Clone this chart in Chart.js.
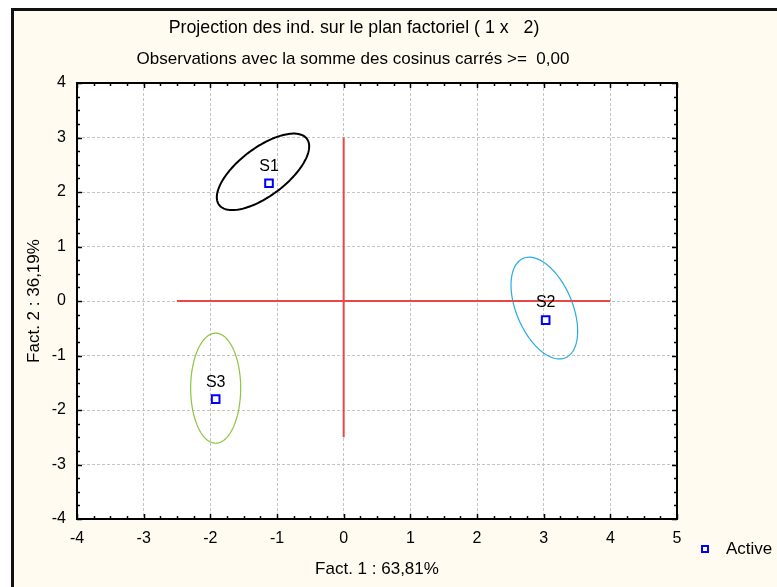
<!DOCTYPE html>
<html>
<head>
<meta charset="utf-8">
<title>Projection des ind. sur le plan factoriel</title>
<script src="https://cdn.jsdelivr.net/npm/chart.js@4/dist/chart.umd.min.js"></script>
<style>
  html, body { margin: 0; padding: 0; background: #ffffff; }
  #wrap { position: relative; width: 777px; height: 587px; }
</style>
</head>
<body>
<div id="wrap"><canvas id="plan" width="777" height="587"></canvas></div>
<script>
// Individuals and their coordinates on factors 1 and 2
const individuals = ['S1', 'S2', 'S3'];
const fact1 = [-1.12, 3.03, -1.92];
const fact2 = [2.16, -0.35, -1.80];

// Axis ticks
const xTicks = [-4, -3, -2, -1, 0, 1, 2, 3, 4, 5];
const yTicks = [-4, -3, -2, -1, 0, 1, 2, 3, 4];

// Origin cross lines (extent along each factor)
const originHorizontal = [-2.5, 4];
const originVertical = [-2.5, 3];

// Ellipses around each individual: centre and two conjugate half-axes (factor units)
const ellipseCx = [-1.21, 3.01, -1.92];
const ellipseCy = [2.37, -0.13, -1.60];
const ellipseU = [[0.658, 0.607], [0.316, -0.912], [0.0, 1.01]];
const ellipseV = [[-0.216, 0.352], [0.387, 0.20], [0.375, 0.0]];
const ellipseColors = ['#000000', '#29ABE2', '#8CC63F'];

const FONT = "'Liberation Sans', Arial, sans-serif";
const CREAM = '#FFFBF0';

const framePlugin = {
  id: 'frame',
  beforeDraw(chart) {
    const { ctx, width, height, chartArea: a } = chart;
    ctx.save();
    ctx.fillStyle = '#ffffff';
    ctx.fillRect(0, 0, width, height);
    ctx.fillStyle = CREAM;
    ctx.fillRect(11, 8, width - 11, height - 8);
    ctx.fillStyle = '#111111';
    ctx.fillRect(11, 8, width - 11, 3);
    ctx.fillRect(11, 8, 3, height - 8);
    ctx.fillStyle = '#ffffff';
    ctx.fillRect(a.left, a.top, a.right - a.left, a.bottom - a.top);
    ctx.restore();
  },
  beforeDatasetsDraw(chart) {
    const { ctx, chartArea: a, scales: { x, y } } = chart;
    ctx.save();
    ctx.beginPath();
    ctx.rect(a.left, a.top, a.right - a.left, a.bottom - a.top);
    ctx.clip();
    for (let i = 0; i < ellipseCx.length; i++) {
      ctx.beginPath();
      const n = 180;
      for (let k = 0; k <= n; k++) {
        const t = (k / n) * Math.PI * 2;
        const vx = ellipseCx[i] + ellipseU[i][0] * Math.cos(t) + ellipseV[i][0] * Math.sin(t);
        const vy = ellipseCy[i] + ellipseU[i][1] * Math.cos(t) + ellipseV[i][1] * Math.sin(t);
        const px = x.getPixelForValue(vx);
        const py = y.getPixelForValue(vy);
        if (k === 0) ctx.moveTo(px, py); else ctx.lineTo(px, py);
      }
      ctx.closePath();
      ctx.strokeStyle = ellipseColors[i];
      ctx.lineWidth = i === 0 ? 2 : 1.2;
      ctx.stroke();
    }
    ctx.restore();
  },
  afterDatasetsDraw(chart) {
    const { ctx, chartArea: a, scales: { x, y } } = chart;
    ctx.save();
    // point labels
    ctx.fillStyle = '#000000';
    ctx.font = '16px ' + FONT;
    ctx.textAlign = 'center';
    ctx.textBaseline = 'middle';
    individuals.forEach((name, i) => {
      ctx.fillText(name, x.getPixelForValue(fact1[i]), y.getPixelForValue(fact2[i]) - 17);
    });

    // plot frame
    ctx.strokeStyle = '#000000';
    ctx.lineWidth = 2;
    ctx.strokeRect(a.left, a.top, a.right - a.left, a.bottom - a.top);

    // inward ticks on all four sides (major every unit, minor every quarter)
    ctx.lineWidth = 1.5;
    ctx.beginPath();
    for (let v = x.min; v <= x.max + 1e-9; v += 0.25) {
      const px = Math.round(x.getPixelForValue(v)) + 0.5;
      const len = Math.abs(v - Math.round(v)) < 1e-6 ? 5 : 3;
      ctx.moveTo(px, a.bottom); ctx.lineTo(px, a.bottom - len);
      ctx.moveTo(px, a.top); ctx.lineTo(px, a.top + len);
    }
    for (let v = y.min; v <= y.max + 1e-9; v += 0.25) {
      const py = Math.round(y.getPixelForValue(v)) + 0.5;
      const len = Math.abs(v - Math.round(v)) < 1e-6 ? 5 : 3;
      ctx.moveTo(a.left, py); ctx.lineTo(a.left + len, py);
      ctx.moveTo(a.right, py); ctx.lineTo(a.right - len, py);
    }
    ctx.stroke();
    ctx.restore();
  },
  afterDraw(chart) {
    const { ctx } = chart;
    ctx.save();
    ctx.fillStyle = '#000000';
    ctx.textAlign = 'center';
    ctx.textBaseline = 'middle';
    ctx.font = '17.8px ' + FONT;
    ctx.fillText('Projection des ind. sur le plan factoriel ( 1 x   2)', 354, 28);
    ctx.font = '17px ' + FONT;
    ctx.fillText('Observations avec la somme des cosinus carrés >=  0,00', 353, 59);

    // legend
    ctx.fillStyle = '#ffffff';
    ctx.fillRect(702, 546, 6, 6);
    ctx.strokeStyle = '#0000FF';
    ctx.lineWidth = 2;
    ctx.strokeRect(702, 546, 6, 6);
    ctx.fillStyle = '#000000';
    ctx.textAlign = 'left';
    ctx.fillText('Active', 726, 549);
    ctx.restore();
  }
};

const points = individuals.map((n, i) => ({ x: fact1[i], y: fact2[i] }));

new Chart(document.getElementById('plan'), {
  type: 'scatter',
  data: {
    datasets: [
      {
        label: 'Active',
        data: points,
        pointStyle: 'rect',
        pointRadius: 5.4,
        pointBorderWidth: 2,
        pointBorderColor: '#0000FF',
        pointBackgroundColor: '#ffffff',
        showLine: false
      },
      {
        type: 'line',
        label: 'axe1',
        data: originHorizontal.map(v => ({ x: v, y: 0 })),
        borderColor: '#E84848',
        borderWidth: 2,
        pointRadius: 0,
        fill: false
      },
      {
        type: 'line',
        label: 'axe2',
        data: originVertical.map(v => ({ x: 0, y: v })),
        borderColor: '#E84848',
        borderWidth: 2,
        pointRadius: 0,
        fill: false
      }
    ]
  },
  options: {
    responsive: false,
    animation: false,
    devicePixelRatio: 1,
    events: [],
    layout: { padding: { left: 0, top: 83, right: 100, bottom: 0 } },
    plugins: { legend: { display: false }, tooltip: { enabled: false } },
    scales: {
      x: {
        type: 'linear',
        min: xTicks[0],
        max: xTicks[xTicks.length - 1],
        afterBuildTicks: s => { s.ticks = xTicks.map(v => ({ value: v })); },
        afterFit: s => { s.height = 68; },
        grid: { color: '#C4C4C4', lineWidth: 1, drawTicks: false },
        border: { display: false, dash: [3, 2] },
        ticks: {
          autoSkip: false, maxRotation: 0, padding: 10,
          color: '#000000', font: { family: FONT, size: 16 }
        },
        title: {
          display: true, text: 'Fact. 1 : 63,81%', color: '#000000',
          font: { family: FONT, size: 17 }, padding: { top: 0, bottom: 7 }
        }
      },
      y: {
        type: 'linear',
        min: yTicks[0],
        max: yTicks[yTicks.length - 1],
        afterBuildTicks: s => { s.ticks = yTicks.map(v => ({ value: v })); },
        afterFit: s => { s.width = 77; },
        grid: { color: '#C4C4C4', lineWidth: 1, drawTicks: false },
        border: { display: false, dash: [3, 2] },
        ticks: {
          autoSkip: false, padding: 11,
          color: '#000000', font: { family: FONT, size: 16 }
        },
        title: {
          display: true, text: 'Fact. 2 : 36,19%', color: '#000000',
          font: { family: FONT, size: 17 }, padding: { top: 24, bottom: 0 }
        }
      }
    }
  },
  plugins: [framePlugin]
});
</script>
</body>
</html>
